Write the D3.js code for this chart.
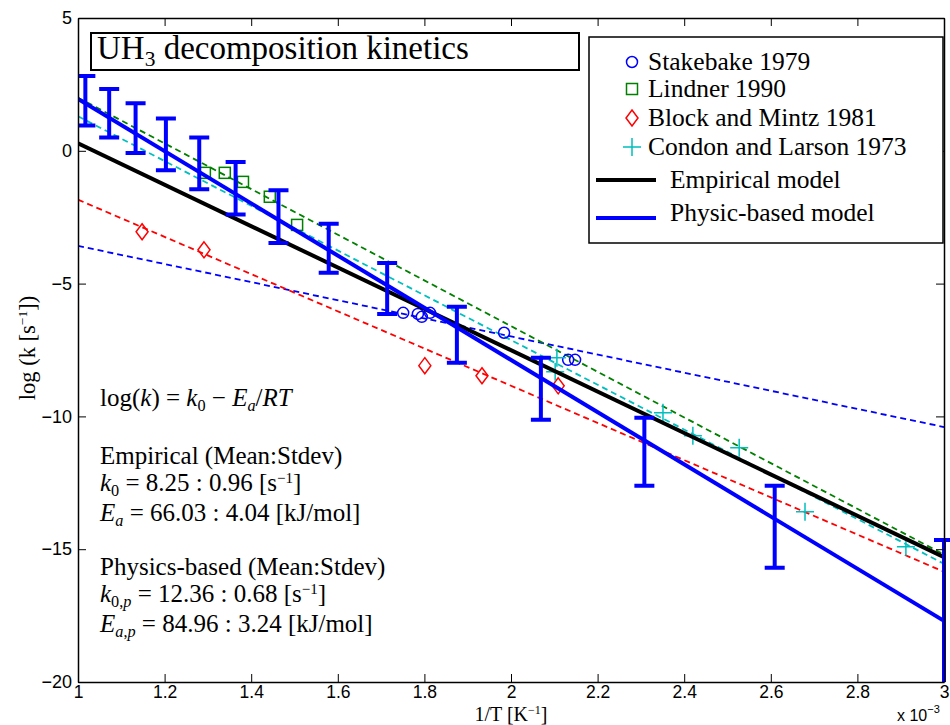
<!DOCTYPE html>
<html><head><meta charset="utf-8">
<script src="https://cdn.jsdelivr.net/npm/d3@7"></script>
<style>body{margin:0;background:#fff}svg{display:block}</style>
</head><body>
<svg id="chart" width="950" height="725"></svg>
<script>
// ---- data (x in units of 1e-3 K^-1, y = log(k [s^-1])) ----
const xTickValues = [1, 1.2, 1.4, 1.6, 1.8, 2, 2.2, 2.4, 2.6, 2.8, 3];
const xTickLabels = ["1", "1.2", "1.4", "1.6", "1.8", "2", "2.2", "2.4", "2.6", "2.8", "3"];
const yTickValues = [-20, -15, -10, -5, 0, 5];
const yTickLabels = ["\u221220", "\u221215", "\u221210", "\u22125", "0", "5"];

const stakebakeX = [1.751, 1.785, 1.794, 1.813, 1.984, 2.132, 2.148];
const stakebakeY = [-6.10, -6.14, -6.25, -6.10, -6.85, -7.87, -7.87];
const lindnerX = [1.293, 1.339, 1.381, 1.443, 1.506];
const lindnerY = [-0.83, -0.83, -1.17, -1.73, -2.79];
const blockX = [1.148, 1.291, 1.801, 1.933, 2.109];
const blockY = [-3.05, -3.73, -8.09, -8.47, -8.85];
const condonX = [2.106, 2.102, 2.351, 2.420, 2.527, 2.679, 2.912];
const condonY = [-7.79, -8.32, -9.86, -10.73, -11.18, -13.59, -14.91];

const fitX = [1, 3];
const stakebakeFit = [-3.58, -10.4];
const lindnerFit = [2.0, -15.2];
const blockFit = [-1.84, -15.85];
const condonFit = [1.3, -15.55];
const empiricalModel = [0.28, -15.3];
const physicsModel = [1.95, -17.7];

const errX = [1.017, 1.072, 1.133, 1.203, 1.280, 1.364, 1.463, 1.579, 1.714, 1.875, 2.069, 2.308, 2.609, 3.0];
const errHigh = [2.82, 2.33, 1.79, 1.22, 0.50, -0.42, -1.49, -2.75, -4.22, -5.87, -7.79, -10.05, -12.61, -14.65];
const errLow = [0.95, 0.50, -0.08, -0.73, -1.45, -2.40, -3.47, -4.59, -6.14, -7.98, -10.13, -12.61, -15.70, -21.0];

const legendLabels = ["Stakebake 1979", "Lindner 1990", "Block and Mintz 1981", "Condon and Larson 1973", "Empirical model", "Physic-based model"];

// ---- layout ----
const svg = d3.select("#chart");
const L = 78, R = 944, T = 18, B = 682;
const x = d3.scaleLinear().domain([1, 3]).range([L, R]);
const y = d3.scaleLinear().domain([-20, 5]).range([B, T]);
const BLUE = "#0000ff", GREEN = "#008000", RED = "#ff0000", CYAN = "#00bfbf";
const SERIF = "'Liberation Serif', 'Times New Roman', serif";
const SANS = "'Liberation Sans', Arial, sans-serif";

svg.append("rect").attr("width", 950).attr("height", 725).attr("fill", "#fff");

const defs = svg.append("defs");
defs.append("clipPath").attr("id", "clip").append("rect")
  .attr("x", L).attr("y", T).attr("width", R - L + 30).attr("height", B - T);

const plot = svg.append("g").attr("clip-path", "url(#clip)");
const line = d3.line().x(d => x(d[0])).y(d => y(d[1]));

// dashed fits
const fits = [[stakebakeFit, BLUE], [lindnerFit, GREEN], [blockFit, RED], [condonFit, CYAN]];
fits.forEach(([f, c]) => {
  plot.append("path").datum(fitX.map((v, i) => [v, f[i]])).attr("d", line)
    .attr("fill", "none").attr("stroke", c).attr("stroke-width", 1.8).attr("stroke-dasharray", "6,4");
});

// markers
const markers = plot.append("g").attr("fill", "none").attr("stroke-width", 1.5);
markers.selectAll("circle.s").data(stakebakeX.map((v, i) => [v, stakebakeY[i]])).join("circle")
  .attr("cx", d => x(d[0])).attr("cy", d => y(d[1])).attr("r", 5.5).attr("stroke", BLUE);
markers.selectAll("rect.l").data(lindnerX.map((v, i) => [v, lindnerY[i]])).join("rect")
  .attr("x", d => x(d[0]) - 5.5).attr("y", d => y(d[1]) - 5.5).attr("width", 11).attr("height", 11).attr("stroke", GREEN);
markers.selectAll("path.b").data(blockX.map((v, i) => [v, blockY[i]])).join("path")
  .attr("d", d => { const cx = x(d[0]), cy = y(d[1]); return `M${cx},${cy - 8}L${cx + 6},${cy}L${cx},${cy + 8}L${cx - 6},${cy}Z`; })
  .attr("stroke", RED);
markers.selectAll("path.c").data(condonX.map((v, i) => [v, condonY[i]])).join("path")
  .attr("d", d => { const cx = x(d[0]), cy = y(d[1]); return `M${cx - 9},${cy}H${cx + 9}M${cx},${cy - 9}V${cy + 9}`; })
  .attr("stroke", CYAN);

// model lines
plot.append("path").datum(fitX.map((v, i) => [v, empiricalModel[i]])).attr("d", line)
  .attr("fill", "none").attr("stroke", "#000").attr("stroke-width", 4);
plot.append("path").datum(fitX.map((v, i) => [v, physicsModel[i]])).attr("d", line)
  .attr("fill", "none").attr("stroke", BLUE).attr("stroke-width", 4);

// error bars
const eb = plot.append("g").attr("stroke", BLUE).attr("stroke-width", 4).attr("fill", "none");
errX.forEach((xv, i) => {
  const cx = x(xv), y1 = y(errHigh[i]), y2 = y(errLow[i]);
  eb.append("path").attr("d", `M${cx},${y1}V${y2}M${cx - 10},${y1}H${cx + 10}M${cx - 10},${y2}H${cx + 10}`);
});

// axes (ticks pointing inward, box)
const axG = svg.append("g");
const axBottom = axG.append("g").attr("transform", `translate(0,${B})`)
  .call(d3.axisBottom(x).tickValues(xTickValues).tickFormat((d, i) => xTickLabels[i]).tickSizeInner(-8).tickSizeOuter(0).tickPadding(2));
axG.append("g").attr("transform", `translate(0,${T})`)
  .call(d3.axisTop(x).tickValues(xTickValues).tickFormat("").tickSizeInner(-8).tickSizeOuter(0));
const axLeft = axG.append("g").attr("transform", `translate(${L},0)`)
  .call(d3.axisLeft(y).tickValues(yTickValues).tickFormat((d, i) => yTickLabels[i]).tickSizeInner(-8).tickSizeOuter(0).tickPadding(6));
axG.append("g").attr("transform", `translate(${R},0)`)
  .call(d3.axisRight(y).tickValues(yTickValues).tickFormat("").tickSizeInner(-8).tickSizeOuter(0));
axG.selectAll(".domain").attr("stroke", "#000").attr("stroke-width", 1.5);
axG.selectAll(".tick line").attr("stroke", "#000").attr("stroke-width", 1);
axG.selectAll(".tick text").attr("font-family", SANS).attr("font-size", 18).attr("fill", "#000");
axBottom.selectAll(".tick text").attr("font-size", 17.5).attr("dy", "0.82em");

// helper for rich text
function rich(g, px, py, segs, size, anchor) {
  const t = g.append("text").attr("x", px).attr("y", py).attr("font-family", SERIF).attr("font-size", size).attr("fill", "#000");
  if (anchor) t.attr("text-anchor", anchor);
  let off = 0;
  segs.forEach(s => {
    const [txt, st] = typeof s === "string" ? [s, ""] : s;
    let target = 0, fs = size, italic = false;
    if (st.includes("sub")) { target = size * 0.2; fs = size * 0.65; }
    if (st.includes("sup")) { target = -size * 0.34; fs = size * 0.6; }
    if (st.includes("i")) italic = true;
    const sp = t.append("tspan").text(txt).attr("font-size", fs).attr("dy", target - off);
    if (italic) sp.attr("font-style", "italic");
    off = target;
  });
  return t;
}

// title box
const tg = svg.append("g");
tg.append("rect").attr("x", 91).attr("y", 33).attr("width", 488).attr("height", 37)
  .attr("fill", "#fff").attr("stroke", "#000").attr("stroke-width", 2);
rich(tg, 97, 59, ["UH", ["3", "sub"], ["\u00a0decomposition kinetics", ""]], 33);

// legend
const lg = svg.append("g");
lg.append("rect").attr("x", 589).attr("y", 37).attr("width", 354).attr("height", 206)
  .attr("fill", "#fff").attr("stroke", "#000").attr("stroke-width", 1.5);
const legY = [62, 89, 118, 147, 180, 213];
const mx = 632;
lg.append("circle").attr("cx", mx).attr("cy", legY[0]).attr("r", 5.5).attr("fill", "none").attr("stroke", BLUE).attr("stroke-width", 1.5);
lg.append("rect").attr("x", mx - 5.5).attr("y", legY[1] - 5.5).attr("width", 11).attr("height", 11).attr("fill", "none").attr("stroke", GREEN).attr("stroke-width", 1.5);
lg.append("path").attr("d", `M${mx},${legY[2] - 8}L${mx + 6},${legY[2]}L${mx},${legY[2] + 8}L${mx - 6},${legY[2]}Z`).attr("fill", "none").attr("stroke", RED).attr("stroke-width", 1.5);
lg.append("path").attr("d", `M${mx - 9},${legY[3]}H${mx + 9}M${mx},${legY[3] - 9}V${legY[3] + 9}`).attr("fill", "none").attr("stroke", CYAN).attr("stroke-width", 1.5);
lg.append("line").attr("x1", 596).attr("x2", 656).attr("y1", legY[4]).attr("y2", legY[4]).attr("stroke", "#000").attr("stroke-width", 4);
lg.append("line").attr("x1", 596).attr("x2", 656).attr("y1", legY[5] + 5).attr("y2", legY[5] + 5).attr("stroke", BLUE).attr("stroke-width", 4);
legendLabels.forEach((lab, i) => {
  lg.append("text").attr("x", i < 4 ? 648 : 670).attr("y", legY[i] + 8)
    .attr("font-family", SERIF).attr("font-size", 25.5).attr("fill", "#000").text(lab);
});

// annotation
const ag = svg.append("g");
const ax0 = 100, asz = 25;
rich(ag, ax0, 406, ["log(", ["k", "i"], ") = ", ["k", "i"], ["0", "sub"], " \u2212 ", ["E", "i"], ["a", "subi"], "/", ["RT", "i"]], asz);
rich(ag, ax0, 464, ["Empirical (Mean:Stdev)"], asz);
rich(ag, ax0, 491, [["k", "i"], ["0", "sub"], " = 8.25 : 0.96 [s", ["\u22121", "sup"], "]"], asz);
rich(ag, ax0, 521, [["E", "i"], ["a", "subi"], " = 66.03 : 4.04 [kJ/mol]"], asz);
rich(ag, ax0, 575, ["Physics-based (Mean:Stdev)"], asz);
rich(ag, ax0, 602, [["k", "i"], ["0,", "sub"], ["p", "subi"], " = 12.36 : 0.68 [s", ["\u22121", "sup"], "]"], asz);
rich(ag, ax0, 632, [["E", "i"], ["a", "subi"], [",", "sub"], ["p", "subi"], " = 84.96 : 3.24 [kJ/mol]"], asz);

// axis labels
rich(svg, 511, 720.5, ["1/T [K", ["\u22121", "sup"], "]"], 20, "middle");
const yl = rich(svg, 0, 0, ["log (k [s", ["\u22121", "sup"], "])"], 22.5, "middle");
yl.attr("transform", "translate(35,348) rotate(-90)");
const ex = svg.append("text").attr("x", 897).attr("y", 721).attr("font-family", SANS).attr("font-size", 16).attr("fill", "#000");
ex.append("tspan").text("x 10");
ex.append("tspan").text("\u22123").attr("font-size", 11).attr("dy", -8);
</script>
</body></html>
